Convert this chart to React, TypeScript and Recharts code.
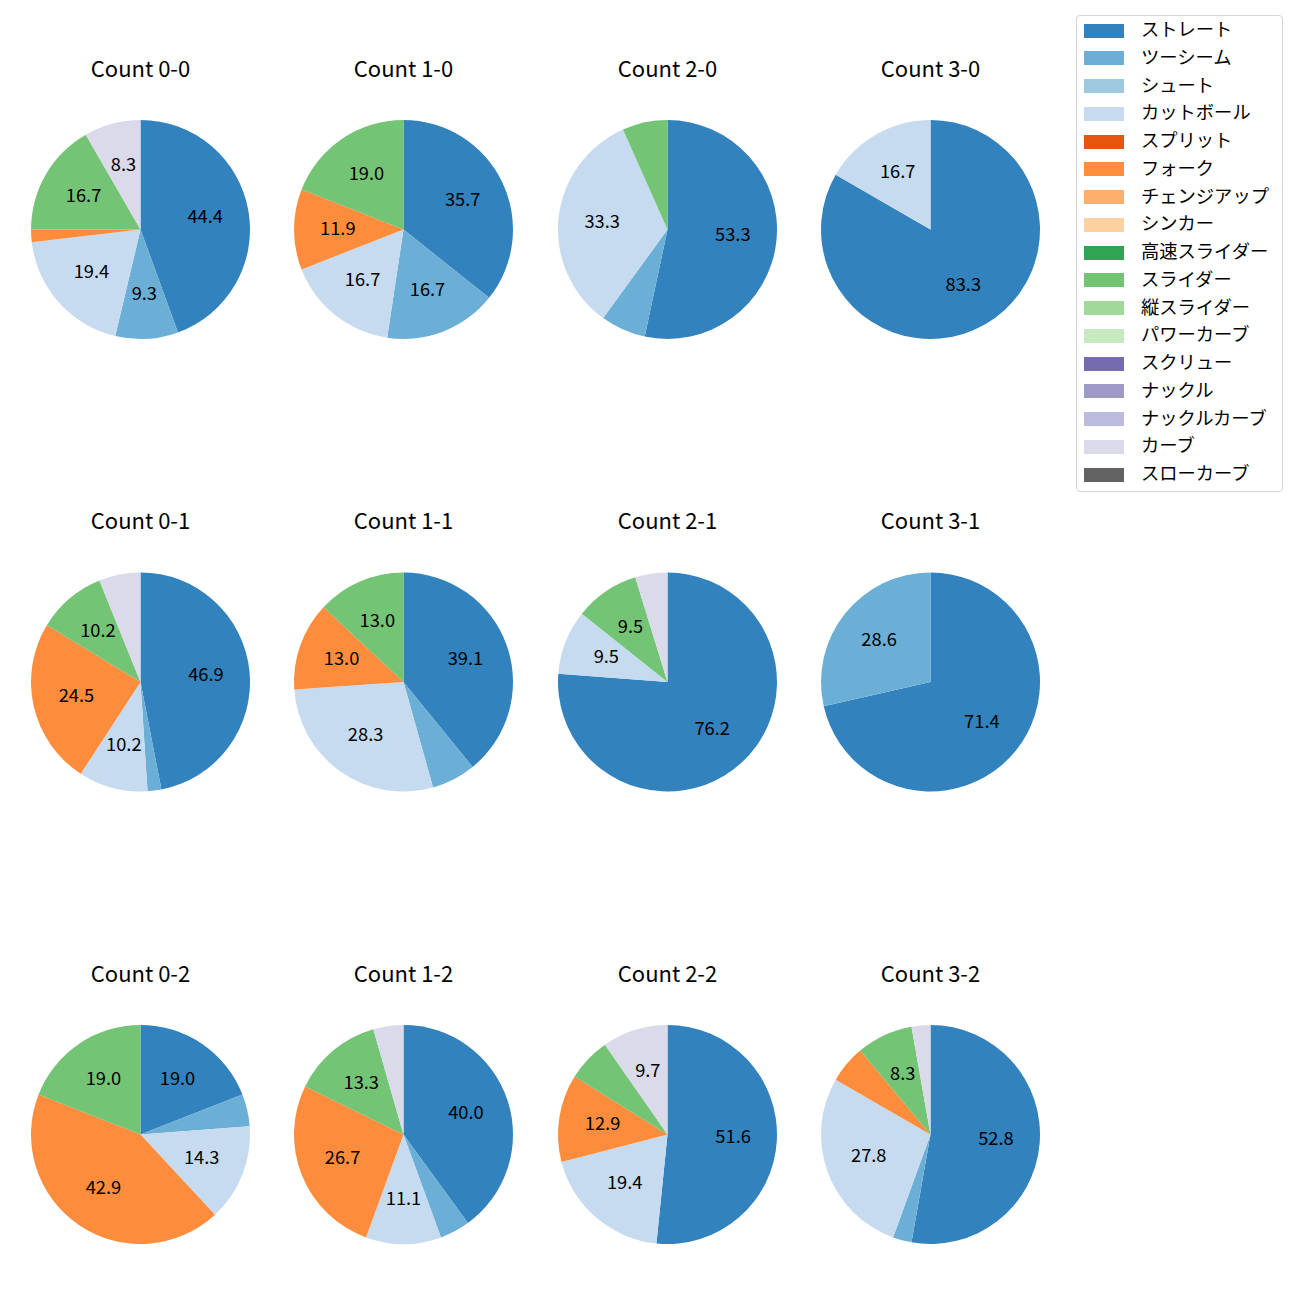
import React from 'react';
import { PieChart, Pie, Cell } from 'recharts';

const FONT = '"Noto Sans CJK JP", "Noto Sans", sans-serif';

const PITCHES = ['ストレート', 'ツーシーム', 'シュート', 'カットボール', 'スプリット', 'フォーク', 'チェンジアップ', 'シンカー', '高速スライダー', 'スライダー', '縦スライダー', 'パワーカーブ', 'スクリュー', 'ナックル', 'ナックルカーブ', 'カーブ', 'スローカーブ'];
const COLORS = ['#3182bd', '#6baed6', '#9ecae1', '#c6dbef', '#e6550d', '#fd8d3c', '#fdae6b', '#fdd0a2', '#31a354', '#74c476', '#a1d99b', '#c7e9c0', '#756bb1', '#9e9ac8', '#bcbddc', '#dadaeb', '#636363'];

const TITLES = ['Count 0-0', 'Count 1-0', 'Count 2-0', 'Count 3-0', 'Count 0-1', 'Count 1-1', 'Count 2-1', 'Count 3-1', 'Count 0-2', 'Count 1-2', 'Count 2-2', 'Count 3-2'];

// pitch counts in PITCHES order
const count00 = [48, 10, 0, 21, 0, 2, 0, 0, 0, 18, 0, 0, 0, 0, 0, 9, 0];
const count10 = [15, 7, 0, 7, 0, 5, 0, 0, 0, 8, 0, 0, 0, 0, 0, 0, 0];
const count20 = [8, 1, 0, 5, 0, 0, 0, 0, 0, 1, 0, 0, 0, 0, 0, 0, 0];
const count30 = [5, 0, 0, 1, 0, 0, 0, 0, 0, 0, 0, 0, 0, 0, 0, 0, 0];
const count01 = [23, 1, 0, 5, 0, 12, 0, 0, 0, 5, 0, 0, 0, 0, 0, 3, 0];
const count11 = [18, 3, 0, 13, 0, 6, 0, 0, 0, 6, 0, 0, 0, 0, 0, 0, 0];
const count21 = [16, 0, 0, 2, 0, 0, 0, 0, 0, 2, 0, 0, 0, 0, 0, 1, 0];
const count31 = [5, 2, 0, 0, 0, 0, 0, 0, 0, 0, 0, 0, 0, 0, 0, 0, 0];
const count02 = [4, 1, 0, 3, 0, 9, 0, 0, 0, 4, 0, 0, 0, 0, 0, 0, 0];
const count12 = [18, 2, 0, 5, 0, 12, 0, 0, 0, 6, 0, 0, 0, 0, 0, 2, 0];
const count22 = [16, 0, 0, 6, 0, 4, 0, 0, 0, 2, 0, 0, 0, 0, 0, 3, 0];
const count32 = [19, 1, 0, 10, 0, 2, 0, 0, 0, 3, 0, 0, 0, 0, 0, 1, 0];

const ALL_COUNTS = [count00, count10, count20, count30, count01, count11, count21, count31, count02, count12, count22, count32];

const COL_X = [140.5, 403.5, 667.5, 930.5];
const ROW_Y = [229.5, 682, 1134.5];
const RADIUS = 109.5;
const RAD = Math.PI / 180;

function renderLabel(props: any) {
  const { cx, cy, midAngle, outerRadius, percent } = props;
  const pct = percent * 100;
  if (pct < 7) return <g />;
  const r = outerRadius * 0.6;
  const x = cx + r * Math.cos(-midAngle * RAD);
  const y = cy + r * Math.sin(-midAngle * RAD);
  return (
    <text x={x} y={y - 3} textAnchor="middle" dominantBaseline="central" fontSize={18.3} fill="#000" fontFamily={FONT}>
      {pct.toFixed(1)}
    </text>
  );
}

export default function App() {
  const pies = ALL_COUNTS.map((counts, idx) => {
    const data = counts
      .map((v, i) => ({ name: PITCHES[i], value: v, color: COLORS[i] }))
      .filter((d) => d.value > 0);
    const col = idx % 4;
    const row = Math.floor(idx / 4);
    return { data, cx: COL_X[col], cy: ROW_Y[row], title: TITLES[idx] };
  });

  return (
    <div style={{ position: 'absolute', left: 0, top: 0, width: 1300, height: 1300, background: '#fff', fontFamily: FONT }}>
      <div style={{ position: 'absolute', left: 0, top: 0 }}>
        <PieChart width={1300} height={1300} margin={{ top: 0, right: 0, bottom: 0, left: 0 }}>
          {pies.map((p, i) => (
            <Pie
              key={i}
              data={p.data}
              dataKey="value"
              nameKey="name"
              cx={p.cx}
              cy={p.cy}
              outerRadius={RADIUS}
              innerRadius={0}
              startAngle={90}
              endAngle={-270}
              stroke="none"
              label={renderLabel}
              labelLine={false}
              isAnimationActive={false}
            >
              {p.data.map((d, j) => (
                <Cell key={j} fill={d.color} stroke="none" />
              ))}
            </Pie>
          ))}
        </PieChart>
      </div>
      <svg width={1300} height={1300} style={{ position: 'absolute', left: 0, top: 0, pointerEvents: 'none' }}>
        {pies.map((p, i) => (
          <text key={i} x={p.cx} y={p.cy - 152.8} textAnchor="middle" fontSize={22} fill="#000" fontFamily={FONT}>
            {p.title}
          </text>
        ))}
      </svg>
      <div
        style={{
          position: 'absolute',
          left: 1076,
          top: 15,
          width: 207,
          height: 477,
          border: '1px solid #d5d5d5',
          borderRadius: 4,
          boxSizing: 'border-box',
          background: '#fff',
        }}
      >
        {PITCHES.map((name, i) => (
          <div key={i} style={{ position: 'absolute', left: 0, top: 0.5 + i * 27.75, height: 28, width: 205 }}>
            <div style={{ position: 'absolute', left: 7, top: 7, width: 40, height: 14, background: COLORS[i] }} />
            <div style={{ position: 'absolute', left: 64, top: -2.5, height: 28, lineHeight: '28px', fontSize: 18.3, color: '#000', whiteSpace: 'nowrap' }}>
              {name}
            </div>
          </div>
        ))}
      </div>
    </div>
  );
}
